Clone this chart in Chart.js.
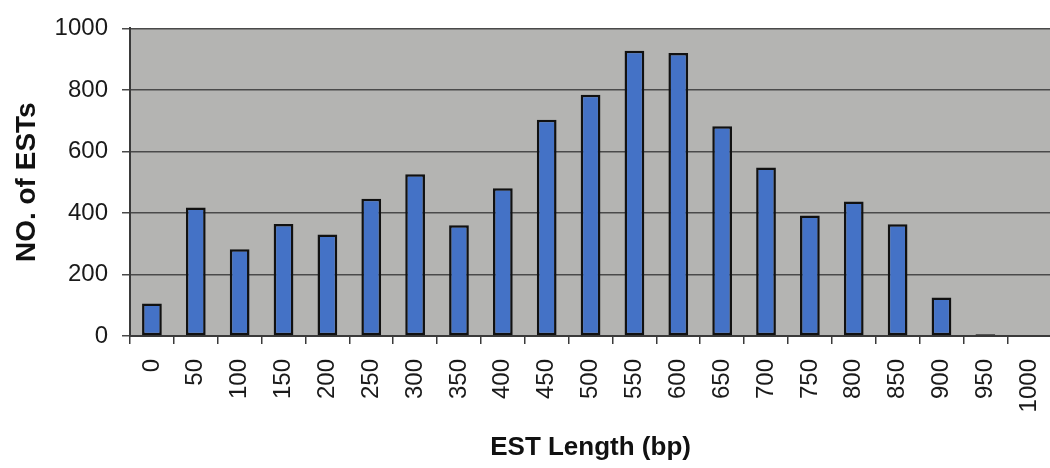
<!DOCTYPE html>
<html>
<head>
<meta charset="utf-8">
<script src="https://cdn.jsdelivr.net/npm/chart.js@4.4.1/dist/chart.umd.min.js"></script>
<style>
    html, body { margin: 0; padding: 0; background: #ffffff; overflow: hidden; }
</style>
</head>
<body>
<canvas id="estChart" width="1073" height="468"></canvas>
<script>
// EST length distribution
const lengthLabels = ['0', '50', '100', '150', '200', '250', '300', '350', '400', '450', '500',
    '550', '600', '650', '700', '750', '800', '850', '900', '950', '1000'];
const estCounts = [106, 418, 282, 364, 330, 446, 526, 360, 480, 703, 784,
    927, 920, 682, 548, 392, 437, 363, 125, 6, 0];
const yTicks = [0, 200, 400, 600, 800, 1000];

const FONT = '"Liberation Sans", Arial, Helvetica, sans-serif';
const AXIS_DARK = '#3a3a3a';

// grey plot background, like the old Excel style
const plotBackground = {
    id: 'plotBackground',
    beforeDraw(chart) {
        const { ctx, chartArea: a } = chart;
        ctx.save();
        ctx.fillStyle = '#b4b4b2';
        ctx.fillRect(a.left, a.top, a.right - a.left, a.bottom - a.top);
        ctx.restore();
    }
};

const ctx = document.getElementById('estChart').getContext('2d');
new Chart(ctx, {
    type: 'bar',
    data: {
        labels: lengthLabels,
        datasets: [{
            label: 'NO. of ESTs',
            data: estCounts,
            backgroundColor: '#4472c6',
            borderColor: '#111111',
            borderWidth: 2.5,
            borderSkipped: false,
            categoryPercentage: 1.0,
            barPercentage: 0.45
        }]
    },
    options: {
        responsive: false,
        animation: false,
        layout: { padding: { top: 25, right: 0, bottom: 0, left: 0 } },
        plugins: {
            legend: { display: false },
            tooltip: { enabled: false }
        },
        scales: {
            x: {
                grid: {
                    offset: true,
                    drawOnChartArea: false,
                    tickLength: 8,
                    color: AXIS_DARK,
                    lineWidth: 1.5
                },
                border: { color: AXIS_DARK, width: 2 },
                ticks: {
                    minRotation: 90,
                    maxRotation: 90,
                    autoSkip: false,
                    padding: 15,
                    color: '#1a1a1a',
                    font: { family: FONT, size: 24 }
                },
                title: {
                    display: true,
                    text: 'EST Length (bp)',
                    color: '#111111',
                    font: { family: FONT, size: 26, weight: 'bold' },
                    padding: { top: 0, bottom: 5 }
                },
                afterFit: (scale) => { scale.height = 132; }
            },
            y: {
                min: 0,
                max: 1000,
                afterBuildTicks: (scale) => { scale.ticks = yTicks.map(v => ({ value: v })); },
                grid: {
                    tickLength: 8,
                    color: '#4a4a4a',
                    lineWidth: 1.5
                },
                border: { color: AXIS_DARK, width: 2 },
                ticks: {
                    padding: 14,
                    color: '#1a1a1a',
                    font: { family: FONT, size: 24 },
                    callback: (v) => String(v)
                },
                title: {
                    display: true,
                    text: 'NO. of ESTs',
                    color: '#111111',
                    font: { family: FONT, size: 28, weight: 'bold' },
                    padding: { top: 10, bottom: 0 }
                },
                afterFit: (scale) => { scale.width = 130; }
            }
        }
    },
    plugins: [plotBackground]
});
</script>
</body>
</html>
